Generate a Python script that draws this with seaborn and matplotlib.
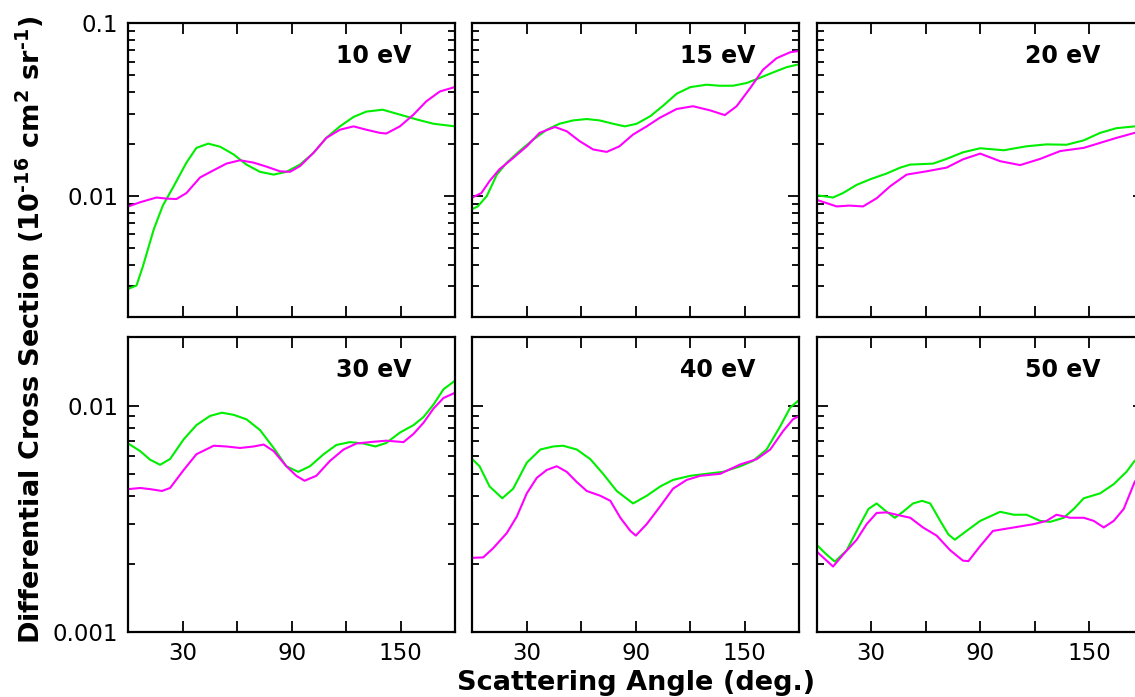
import numpy as np
import pandas as pd
import matplotlib
matplotlib.use("Agg")
import matplotlib.pyplot as plt
import seaborn as sns
from matplotlib.ticker import FixedLocator, LogLocator, FuncFormatter, NullLocator, NullFormatter

# ---------------- data ----------------
energies = ["10 eV", "15 eV", "20 eV", "30 eV", "40 eV", "50 eV"]
series_names = ["Green model", "Magenta model"]

ang_10_g = [0, 4.5, 8, 14, 19, 25, 32, 37.5, 44, 50.5, 58, 65, 72.5, 80, 87, 94.5, 102, 109, 116.5, 124, 131, 140, 149.5, 159, 168, 180]
dcs_10_g = [0.0029, 0.00303, 0.0039, 0.0064, 0.0088, 0.0114, 0.0156, 0.019, 0.0201, 0.0193, 0.0174, 0.0152, 0.0138, 0.0133, 0.0138, 0.0152, 0.0178, 0.0217, 0.0253, 0.0287, 0.0308, 0.0316, 0.0296, 0.0277, 0.0262, 0.0253]
ang_10_m = [0, 6.5, 15.5, 21, 26.5, 32, 39.5, 47, 54, 61.5, 69, 76, 83.5, 89, 94.5, 102, 109, 116.5, 124, 131, 138.5, 142, 149.5, 157, 164, 171.5, 180]
dcs_10_m = [0.0087, 0.0092, 0.0098, 0.00966, 0.0096, 0.0104, 0.0128, 0.0141, 0.0154, 0.0161, 0.0156, 0.0148, 0.0139, 0.0138, 0.0149, 0.0178, 0.0217, 0.0242, 0.0253, 0.0242, 0.0232, 0.0230, 0.0253, 0.0296, 0.0353, 0.0403, 0.0428]

ang_15_g = [0, 3, 8, 13.5, 19, 26, 33.5, 41, 48, 55.5, 63, 70, 77.5, 84, 90.5, 98, 105, 112.5, 120, 129, 136, 143.5, 151, 158, 165.5, 173, 180]
dcs_15_g = [0.0084, 0.0087, 0.0100, 0.0133, 0.0156, 0.0182, 0.0212, 0.0242, 0.0262, 0.0274, 0.0279, 0.0274, 0.0262, 0.0253, 0.0262, 0.0290, 0.0333, 0.0391, 0.0427, 0.0441, 0.0435, 0.0435, 0.0451, 0.0482, 0.0519, 0.0557, 0.0580]
ang_15_m = [0, 5, 9.5, 15, 22.5, 30, 37, 45.5, 52, 59, 66.5, 74, 81, 88.5, 96, 103, 112.5, 121.5, 131, 139, 145.5, 153, 160, 167.5, 175, 180]
dcs_15_m = [0.0098, 0.0104, 0.0122, 0.0143, 0.0166, 0.0194, 0.0232, 0.0251, 0.0237, 0.0208, 0.0186, 0.0180, 0.0194, 0.0227, 0.0253, 0.0283, 0.0319, 0.0331, 0.0313, 0.0294, 0.0331, 0.0422, 0.0538, 0.0628, 0.0680, 0.0692]

ang_20_g = [0, 9, 14.5, 22, 29.5, 38.5, 46, 51.5, 64, 71.5, 80.5, 90, 103, 115.5, 126.5, 137.5, 147, 156, 165, 175, 180]
dcs_20_g = [0.0101, 0.0098, 0.0104, 0.0116, 0.0125, 0.0135, 0.0146, 0.0152, 0.0154, 0.0164, 0.0179, 0.0189, 0.0184, 0.0194, 0.0199, 0.0198, 0.0210, 0.0232, 0.0247, 0.0253, 0.0256]
ang_20_m = [0, 11, 18, 25.5, 33, 40.5, 49.5, 60.5, 71.5, 80.5, 90, 101, 112, 123, 134, 147, 156, 165, 175, 180]
dcs_20_m = [0.0095, 0.0087, 0.0088, 0.0087, 0.0097, 0.0114, 0.0133, 0.0139, 0.0146, 0.0163, 0.0176, 0.0159, 0.0151, 0.0164, 0.0182, 0.0190, 0.0203, 0.0217, 0.0232, 0.0238]

ang_30_g = [0, 6.5, 12, 17.5, 23, 30.5, 37.5, 45, 51.5, 58, 65, 72.5, 80, 87, 93.5, 100, 107.5, 114.5, 122, 129.5, 136, 142, 149.5, 157, 162.5, 168, 173.5, 180]
dcs_30_g = [0.0068, 0.0063, 0.00577, 0.00548, 0.00581, 0.0071, 0.0082, 0.0090, 0.0093, 0.0091, 0.0087, 0.0078, 0.0065, 0.0054, 0.0051, 0.0054, 0.0061, 0.0067, 0.0069, 0.0068, 0.0066, 0.00684, 0.0076, 0.0082, 0.0089, 0.0101, 0.0118, 0.0129]
ang_30_m = [0, 6.5, 12, 18.5, 23, 30.5, 37.5, 47, 54, 61.5, 69, 74.5, 80, 87, 92.5, 97, 103.5, 111, 118.5, 125.5, 133, 142, 151.5, 157, 162.5, 168, 173.5, 180]
dcs_30_m = [0.00428, 0.00433, 0.00428, 0.0042, 0.00433, 0.0052, 0.0061, 0.00665, 0.0066, 0.0065, 0.0066, 0.00673, 0.0063, 0.0054, 0.0049, 0.00466, 0.0049, 0.0057, 0.0064, 0.0068, 0.0069, 0.0070, 0.0069, 0.0075, 0.0084, 0.0097, 0.0108, 0.0114]

ang_40_g = [0, 4, 9.5, 16.5, 22.5, 30, 37.5, 44.5, 50, 57.5, 65, 72, 79.5, 88.5, 96, 103.5, 110.5, 120, 129, 138, 147.5, 154.5, 162, 169.5, 175, 180]
dcs_40_g = [0.0058, 0.0054, 0.0044, 0.0039, 0.0043, 0.0056, 0.0064, 0.0066, 0.00665, 0.0064, 0.0058, 0.0050, 0.0042, 0.0037, 0.0040, 0.0044, 0.0047, 0.0049, 0.0050, 0.0051, 0.0054, 0.0057, 0.0064, 0.0081, 0.0098, 0.0106]
ang_40_m = [0, 6, 11.5, 19, 24.5, 30, 35.5, 41, 46.5, 52, 57.5, 63, 70.5, 76, 81.5, 87, 90, 96, 103.5, 110.5, 118, 125.5, 136.5, 147.5, 156.5, 164, 171, 176.5, 180]
dcs_40_m = [0.00213, 0.00214, 0.00235, 0.00274, 0.00324, 0.0041, 0.0048, 0.0052, 0.0054, 0.0051, 0.0046, 0.0042, 0.0040, 0.0038, 0.0032, 0.0028, 0.00267, 0.0030, 0.0036, 0.0043, 0.0047, 0.0049, 0.0050, 0.0055, 0.0058, 0.0064, 0.0077, 0.0087, 0.0090]

ang_50_g = [0, 5.5, 10, 16.5, 24, 28.5, 33, 38.5, 43, 47.5, 53, 58, 62.5, 68, 72.5, 76, 82.5, 90, 101, 108.5, 115.5, 123, 128.5, 136, 141.5, 147, 156, 163.5, 170.5, 175, 180]
dcs_50_g = [0.00243, 0.0022, 0.00205, 0.0023, 0.0030, 0.0035, 0.0037, 0.0034, 0.0032, 0.0034, 0.0037, 0.0038, 0.0037, 0.0031, 0.0027, 0.00256, 0.0028, 0.0031, 0.0034, 0.0033, 0.0033, 0.0031, 0.00307, 0.0032, 0.0035, 0.0039, 0.0041, 0.0045, 0.0051, 0.0057, 0.0062]
ang_50_m = [0, 5.5, 9, 14.5, 22, 27.5, 33, 38.5, 44, 51.5, 58.5, 66, 73.5, 80.5, 83.5, 90, 97, 108.5, 119.5, 126.5, 132, 139.5, 147, 152.5, 158, 163.5, 169, 175, 180]
dcs_50_m = [0.00227, 0.00207, 0.00195, 0.0022, 0.00256, 0.0030, 0.00336, 0.00338, 0.0033, 0.0032, 0.0029, 0.00267, 0.0023, 0.00207, 0.00206, 0.0024, 0.0028, 0.0029, 0.0030, 0.0031, 0.0033, 0.0032, 0.0032, 0.0031, 0.0029, 0.0031, 0.0035, 0.0046, 0.0053]

xtick_values = [30, 60, 90, 120, 150]
xtick_labels = ["30", "", "90", "", "150"]

# ---------------- assemble a long table ----------------
panel_data = {
    "10 eV": (ang_10_g, dcs_10_g, ang_10_m, dcs_10_m),
    "15 eV": (ang_15_g, dcs_15_g, ang_15_m, dcs_15_m),
    "20 eV": (ang_20_g, dcs_20_g, ang_20_m, dcs_20_m),
    "30 eV": (ang_30_g, dcs_30_g, ang_30_m, dcs_30_m),
    "40 eV": (ang_40_g, dcs_40_g, ang_40_m, dcs_40_m),
    "50 eV": (ang_50_g, dcs_50_g, ang_50_m, dcs_50_m),
}
rows = []
for e, (ag, vg, am, vm) in panel_data.items():
    for a, v in zip(ag, vg):
        rows.append((e, series_names[0], a, v))
    for a, v in zip(am, vm):
        rows.append((e, series_names[1], a, v))
df = pd.DataFrame(rows, columns=["energy", "series", "angle", "dcs"])

# ---------------- style ----------------
sns.set_theme(style="ticks")
plt.rcParams["font.family"] = ["DejaVu Sans"]
plt.rcParams["mathtext.fontset"] = "dejavusans"
plt.rcParams["axes.edgecolor"] = "black"
plt.rcParams["axes.linewidth"] = 1.6
plt.rcParams["text.color"] = "black"
plt.rcParams["axes.labelcolor"] = "black"
plt.rcParams["xtick.color"] = "black"
plt.rcParams["ytick.color"] = "black"
plt.rcParams["xtick.labelcolor"] = "black"
plt.rcParams["ytick.labelcolor"] = "black"

palette = {series_names[0]: "#00ee00", series_names[1]: "#ff00ff"}

W, H = 1135.0, 697.0
fig = plt.figure(figsize=(W / 100, H / 100), dpi=100)
fig.patch.set_facecolor("white")

col_left = [128.3, 472.3, 816.7]
row_top = [23.3, 337.3]
row_h = [293.4, 295.0]
ax_w = 327.0
ylims = [(0.002, 0.1), (0.001, 0.02)]

for i, energy in enumerate(energies):
    r, c = divmod(i, 3)
    ax = fig.add_axes([col_left[c] / W, 1 - (row_top[r] + row_h[r]) / H, ax_w / W, row_h[r] / H])
    sub = df[df["energy"] == energy]
    sns.lineplot(data=sub, x="angle", y="dcs", hue="series", hue_order=series_names,
                 palette=palette, estimator=None, sort=False, legend=False,
                 linewidth=1.5, ax=ax)
    ax.set_yscale("log")
    ax.set_xlim(0, 180)
    ax.set_ylim(*ylims[r])
    ax.xaxis.set_major_locator(FixedLocator(xtick_values))
    ax.set_xticklabels(xtick_labels)
    ax.xaxis.set_minor_locator(NullLocator())
    ax.yaxis.set_major_locator(LogLocator(base=10, numticks=10))
    ax.yaxis.set_minor_locator(LogLocator(base=10, subs=np.arange(2, 10), numticks=20))
    ax.yaxis.set_major_formatter(FuncFormatter(lambda v, p: f"{v:g}"))
    ax.yaxis.set_minor_formatter(NullFormatter())
    ax.tick_params(which="both", direction="in", top=True, right=True, width=1.3,
                   color="black", labelcolor="black")
    ax.tick_params(which="major", length=8, labelsize=16.5, pad=7.2)
    ax.tick_params(which="minor", length=4.8)
    if c != 0:
        ax.tick_params(labelleft=False)
    if r == 0:
        ax.tick_params(labelbottom=False)
    ax.set_xlabel("")
    ax.set_ylabel("")
    for sp in ax.spines.values():
        sp.set_linewidth(1.6)
        sp.set_color("black")
    ax.text(0.636, 0.866, energy, transform=ax.transAxes, ha="left", va="baseline",
            fontsize=17, fontweight="bold", color="black")

fig.text(636 / W, 1 - 690.5 / H, "Scattering Angle (deg.)", ha="center", va="baseline",
         fontsize=19.5, fontweight="bold", color="black")
fig.text(30 / W, 1 - 330 / H,
         "Differential Cross Section (10$^{\\mathbf{\u2010}\\mathbf{16}}$ cm$^{\\mathbf{2}}$ sr$^{\\mathbf{\u2010}\\mathbf{1}}$)",
         rotation=90, ha="center", va="center", fontsize=19.5, fontweight="bold", color="black")

fig.savefig("out.png", dpi=100, facecolor="white")
